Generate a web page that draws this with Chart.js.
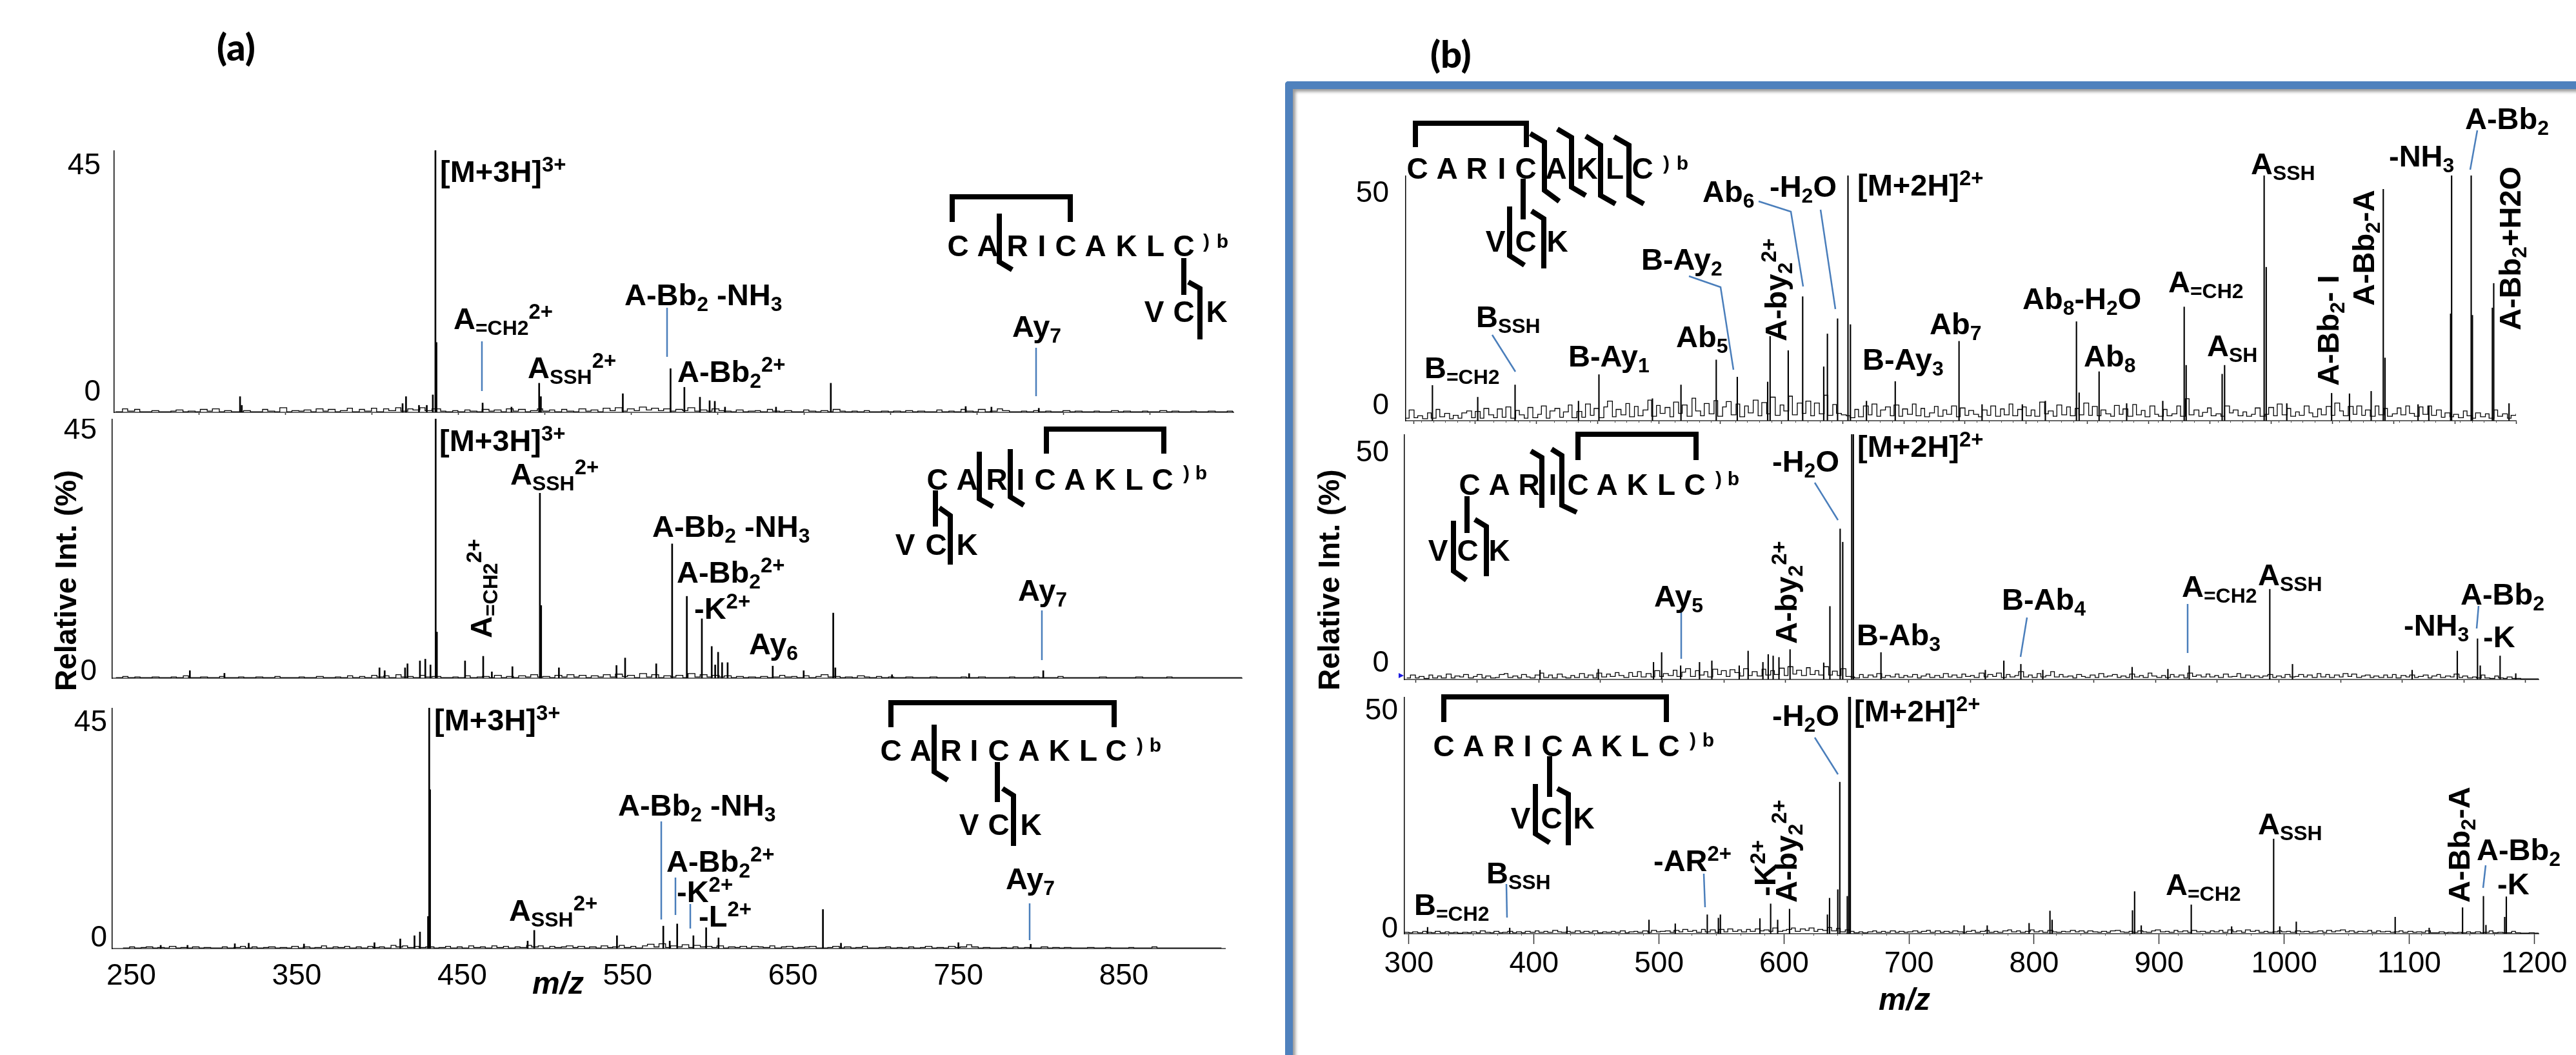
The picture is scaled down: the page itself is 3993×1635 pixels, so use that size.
<!DOCTYPE html>
<html>
<head>
<meta charset="utf-8">
<script src="https://cdn.jsdelivr.net/npm/chart.js@4"></script>
<style>
html, body { margin: 0; padding: 0; background: #fff; }
#page { position: relative; width: 3993px; height: 1635px; overflow: hidden; background: #fff; font-family: "Liberation Sans", Arial, sans-serif; color: #000; }
#frame { position: absolute; left: 1992px; top: 126px; width: 2100px; height: 1600px; box-sizing: border-box; border-left: 12px solid #4f81bd; border-top: 12px solid #4f81bd; border-top-left-radius: 5px; box-shadow: inset 4px 4px 5px #999; }
canvas { position: absolute; }
#overlay { position: absolute; left: 0; top: 0; }
.lbl { position: absolute; white-space: nowrap; font-weight: bold; line-height: 0; font-size: 44px; }
.lbl sub, .lbl sup { font-size: .68em; line-height: 0; vertical-align: baseline; position: relative; }
.lbl sub { top: .28em; }
.lbl sup { top: -.48em; font-size: .7em; }
</style>
</head>
<body>
<div id="page">
<div id="frame"></div>
<canvas id="a1"></canvas><canvas id="a2"></canvas><canvas id="a3"></canvas>
<canvas id="b1"></canvas><canvas id="b2"></canvas><canvas id="b3"></canvas>
<svg id="overlay" width="3993" height="1635" xmlns="http://www.w3.org/2000/svg"></svg>
</div>
<script>
// peaks, one pair of lists per spectrum
const a1PeakMz = [317,318,413,411,420.5,425,428.5,430,430.6,457.3,474,490,491,538.4,566,574,583,588.6,591.6,597.5,627,658.7,736.7,751.6,779];
const a1PeakInt = [2.7,1.2,2.7,1.5,1.2,1.2,3,45,12,1.6,.9,5,2.7,3.2,7.5,4.3,2.6,2,1.9,.9,.9,5,1,.9,.7];
const a2PeakMz = [287.8,307.8,397.5,400.5,412.3,413.7,420.9,424,427,430,430.7,447,457.5,462.5,474.4,490.3,491,501.3,534.6,539.6,557.6,566.8,575.3,584,589.7,591.7,593.4,595.7,598.9,625,642.9,660,661.2,694,738.6,781.5];
const a2PeakInt = [1.3,.85,1.8,1.3,1.8,2.5,3,3.3,2.3,45,8,3,3.8,1.1,2,32.1,12.6,1.8,2.2,3.5,2.5,23.3,14.2,10.3,5.5,2.3,4.5,2.7,2.7,2.1,1.3,11.3,1.8,.6,.8,1.3];
const a3PeakMz = [267.8,284,312.6,321,354.4,397,412.6,421.2,424.5,429.4,430.1,430.6,489.6,493.6,543.6,571.6,575.5,580,589.8,597.5,605,668.1,679,750,793.7];
const a3PeakInt = [.6,.6,.9,1,.85,1.1,1.8,2.4,3.1,6,45,29.7,1.4,3.4,2.4,4.2,1.4,4.6,2.4,3.9,2,7.3,1,1.1,.8];
const b1PeakMz = [315,352,382.5,434.3,451,494.7,518,546.8,564,588.8,590.8,605.6,617.4,634.6,637.6,645.9,654.4,656.4,669.5,693,745.1,763.9,796.8,815.6,841,843.2,859.5,882,911.5,929,930.6,960,962,994.3,996,1012.8,1049.4,1064,1081.7,1091.6,1093,1120,1128.8,1146.6,1147.4,1163.4,1164.4,1180.7,1181.8,1194.3];
const b1PeakInt = [7.2,4.8,7.3,4,9.4,4.5,7.3,12.4,8.9,7.9,17.2,14.3,25.3,11,17.7,20.8,50,19.6,4,8,16.2,3.3,3.3,4,20.2,5.7,10,3.5,4,23.2,11.3,9.5,11.3,50,31.3,3.5,5.6,5.5,6,47.2,12.8,3.3,3,21.8,50,50,21.5,23,28,3.5];
const b2PeakMz = [401,448.3,493,499.6,515,530.3,540.3,562.5,569.7,581.7,586,590,594.7,603.7,631,636,644.3,646.4,653.7,655,677.4,762,777,790.8,808.6,881,910,927.3,992.6,1011,1108,1144.6,1161,1163.2,1179.3,1192];
const b2PeakInt = [1.9,2.1,3.5,5.5,2.8,3.5,3.8,2.8,5.8,3.5,5.1,4.8,4.5,6.1,3.4,14.9,30.7,28,50,50,5.5,1.9,3.8,3.1,1.9,2.5,2.1,2.8,18.4,3.1,1.9,5.8,8.3,2.8,4.8,1.2];
const b3PeakMz = [314.9,380.6,426.4,492,513,538.6,547.5,549.1,580.7,589.3,594.9,604.4,634.7,636.4,643,644.6,650.6,651.8,653,744,762.5,796,812.7,814.4,878.7,880.4,885.7,925.7,958,991.6,996.5,1009.7,1088.8,1116,1142.7,1159.4,1161.4,1176.4,1177.7];
const b3PeakInt = [1.35,1.2,1.5,2.9,2.1,4,3.3,4,3.2,6.3,2.9,5.2,4,7.5,9.3,32,7.9,50,50,1.7,1.7,2.2,4.8,2.9,4.9,8.9,1.7,6.1,1.5,20,1.5,2.5,3.5,1.2,5.5,7.9,1.8,3.5,7.8];

// baseline noise, estimated by eye, ten values a row
const aNoiseMz = [
245,249,252,256,259,263,266,270,273,277,
280,284,287,291,294,298,301,305,308,312,
316,319,323,326,330,333,337,340,344,347,
351,354,358,361,365,368,372,375,379,382,
386,389,393,396,400,403,407,410,414,417,
421,424,428,433,436,440,443,447,450,454,
457,461,464,468,471,475,478,482,485,489,
492,496,499,503,506,510,513,517,520,524,
527,531,534,538,541,545,548,552,555,559,
562,566,569,573,576,580,583,587,590,594,
597,601,604,608,611,615,618,622,625,629,
632,636,639,643,646,650,653,657,660,664,
667,671,674,678,681,685,688,692,695,699,
702,706,709,713,716,720,723,727,730,734,
737,741,744,748,751,755,758,762,765,769,
772,776,779,783,786,790,793,797,800,804,
807,811,814,818,821,825,828,832,835,839,
842,846,849,853,856,860,863,867,870,874,
877,881,884,888,891,895,898,902,905,909];
const a1NoiseInt = [
.1,.6,.2,.5,.1,.1,.3,.1,.1,.2,
.4,.1,.2,.1,.5,.2,.6,.1,.3,.1,
.1,.3,.1,.1,.5,.2,.1,.8,.1,.3,
.2,.4,.1,.6,.2,.5,.1,.3,.7,.1,
.5,.2,.7,.1,.6,.3,.8,.2,.6,.4,
.8,.3,.6,.2,.1,.3,.1,.4,.2,.1,
.5,.2,.4,.1,.6,.2,.5,.1,.3,.6,
.2,.4,.1,.5,.2,.1,.6,.2,.4,.1,
.7,.3,.8,.2,.6,.3,.9,.4,.7,.3,
.6,.2,.5,.3,.8,.2,.4,.2,.6,.3,
.2,.1,.4,.1,.2,.3,.1,.5,.2,.1,
.3,.1,.1,.4,.2,.1,.3,.1,.5,.2,
.1,.2,.1,.3,.1,.1,.2,.1,.2,.1,
.3,.1,.2,.1,.1,.4,.1,.2,.1,.5,
.2,.1,.5,.1,.2,.6,.3,.1,.1,.2,
.1,.3,.1,.2,.1,.1,.3,.1,.2,.1,
.1,.2,.1,.1,.3,.1,.2,.1,.1,.2,
.1,.1,.3,.1,.2,.1,.1,.2,.1,.1,
.2,.1,.1,.2,.1,.1,.2,.1,.1,.1];
const a2NoiseInt = [
.1,.3,.1,.2,.1,.1,.2,.1,.1,.2,
.1,.4,.1,.1,.2,.1,.1,.3,.1,.1,
.2,.1,.1,.2,.1,.1,.3,.1,.1,.1,
.2,.1,.1,.3,.1,.1,.2,.1,.4,.1,
.3,.1,.5,.2,.4,.1,.6,.2,.3,.1,
.5,.2,.3,.1,.1,.2,.1,.4,.1,.2,
.3,.1,.5,.1,.3,.1,.4,.2,.6,.2,
.3,.1,.5,.2,.6,.2,.5,.1,.4,.2,
.6,.2,.7,.3,.5,.1,.8,.2,.6,.1,
.4,.2,.5,.1,.8,.2,.6,.2,.5,.2,
.4,.1,.3,.1,.2,.1,.3,.1,.2,.5,
.2,.3,.1,.4,.1,.3,.6,.2,.3,.1,
.2,.1,.4,.2,.1,.3,.1,.2,.1,.1,
.2,.1,.1,.1,.2,.1,.1,.1,.1,.2,
.1,.1,.2,.1,.1,.1,.1,.2,.1,.1,
.1,.2,.1,.1,.1,.3,.1,.1,.1,.1,
.1,.1,.2,.1,.1,.1,.1,.1,.2,.1,
.1,.1,.1,.2,.1,.1,.1,.1,.1,.1,
.1,.1,.1,.1,.1,.1,.1,.1,.1,.1];
const a3NoiseInt = [
.1,.3,.1,.2,.3,.1,.2,.1,.4,.1,
.2,.1,.3,.1,.2,.1,.1,.3,.1,.2,
.4,.1,.3,.1,.2,.3,.1,.2,.1,.4,
.1,.3,.1,.2,.5,.1,.3,.2,.4,.1,
.3,.1,.4,.2,.3,.1,.6,.3,.5,.2,
.4,.2,.3,.1,.2,.4,.1,.3,.1,.5,
.2,.3,.1,.5,.2,.4,.1,.3,.2,.6,
.3,.5,.1,.4,.2,.3,.5,.2,.4,.1,
.3,.1,.5,.2,.3,.6,.2,.4,.1,.5,
.8,.3,.9,.2,.5,.3,.7,.2,.6,.3,
.4,.2,.5,.1,.3,.2,.4,.1,.4,.3,
.2,.5,.1,.3,.4,.1,.2,.3,.4,.1,
.1,.2,.4,.1,.3,.1,.2,.4,.1,.1,
.2,.3,.1,.2,.1,.3,.1,.2,.4,.1,
.2,.1,.4,.2,.3,.7,.3,.1,.2,.1,
.1,.2,.1,.3,.1,.2,.1,.1,.3,.1,
.2,.1,.2,.1,.1,.1,.2,.1,.1,.2,
.1,.1,.1,.2,.1,.1,.1,.3,.1,.1,
.1,.1,.1,.1,.1,.1,.1,.1,.1,.1];

const bNoiseMz = [
293,296,300,303,307,311,314,318,321,325,
329,332,336,339,343,347,350,354,357,361,
365,368,372,375,379,383,386,390,393,397,
401,404,408,411,415,419,422,426,429,433,
437,440,444,447,451,455,458,462,465,469,
473,476,480,483,487,491,494,498,501,505,
509,512,516,519,523,527,530,534,537,541,
545,548,552,555,559,563,566,570,573,577,
581,584,588,591,595,599,602,606,609,613,
617,620,624,627,631,635,638,642,645,649,
653,656,660,663,667,671,674,678,681,685,
689,692,696,699,703,707,710,714,717,721,
725,728,732,735,739,743,746,750,753,757,
761,764,768,771,775,779,782,786,789,793,
797,800,804,807,811,815,818,822,825,829,
833,836,840,843,847,851,854,858,861,865,
869,872,876,879,883,887,890,894,897,901,
905,908,912,915,919,923,926,930,933,937,
941,944,948,951,955,959,962,966,969,973,
977,980,984,987,991,995,998,1002,1005,1009,
1013,1016,1020,1023,1027,1031,1034,1038,1041,1045,
1049,1052,1056,1059,1063,1067,1070,1074,1077,1081,
1085,1088,1092,1095,1099,1103,1106,1110,1113,1117,
1121,1124,1128,1131,1135,1139,1142,1146,1149,1153,
1157,1160,1164,1167,1171,1175,1178,1182,1185,1189,
1193,1196,1200,1203,1207,1211,1214,1218,1221,1225];
const b1NoiseInt = [
.5,2.2,.6,1,.4,1.6,.5,2.3,.8,1.5,
.4,1.1,.5,1.6,2,.6,1.9,.5,2.5,1.2,
.6,2.4,.7,2.8,.5,2.1,1.2,.5,2.7,.6,
1.3,3,.5,2,2.5,.7,1.8,3.2,.6,1.9,
.7,3.4,1.1,2.5,.6,2.8,4,.8,2.3,1.2,
3.5,.8,2.9,1,2.2,4.2,.9,3.1,1.5,2.7,
.8,3.8,1.5,3.2,.9,4.6,2,1,3.5,1.4,
4.1,.9,2.8,3.9,1.2,3.4,.8,3,1.6,4.2,
1,3.7,1.4,4.8,1.1,3.2,2,5,1.2,3.6,
1.5,4,1,3.6,1.4,5.2,1.1,3.3,1.5,1.2,
1,.6,2.3,.8,3,1.2,3.4,.9,2.2,2.8,
1,3.2,.9,2.4,1.3,3.4,1,2.5,.8,1.6,
2.9,.9,2.2,1.3,3,.8,2.6,1.1,2.1,1.3,
.8,2.2,1.1,3,.9,2.4,1.2,3.4,1,2.3,
2.8,1,2.2,.9,3.8,1.4,2,.9,3.2,1.2,
2.8,1,2.5,1.2,3.6,1.1,2.9,1,2.2,1.4,
.9,3.1,1.3,2.4,.9,3.3,1.2,2.1,.8,3,
1.3,.9,2.3,1,1.4,3,.9,4.5,1.2,2.2,
.9,1.7,2.6,1,1.4,.9,3,1.6,2.2,1,
1.8,.9,1.3,2.6,.9,1.3,2.7,1,3.4,1.2,
2.5,.9,1.8,1.1,3,1.6,.8,2.4,1.2,2.9,
1.1,3.6,2,1,2.9,1.3,3,1.1,2.2,.9,
3,1.2,2.5,.9,1.4,2.6,1.2,3,1.5,.9,
2.8,1.3,3,1.1,2.2,.7,1.6,.8,1.3,.6,
2,1,.5,1.6,.8,1.4,.5,2.2,.9,1.4,
.5,1.1,1.4,.4,1.2,.3,.2,.2,.2,.2];
const b2NoiseInt = [
.3,.9,.3,.6,.2,.9,.3,.7,.3,1.1,
.3,.7,.5,1,.3,.6,1,.3,.7,.3,
.4,1,1.2,.4,.7,.3,1,.5,.3,.9,
1.3,.4,.9,.3,1.1,.5,.3,.8,.4,1.2,
.4,.9,.3,1.3,.5,1.1,.6,1.4,.8,.4,
1.4,.6,1.6,.5,1.2,.5,1.8,.6,1.2,.8,
1.9,.6,1.5,2.2,.6,1.8,.9,1.6,.5,2.1,
1,1.8,.6,2,1.4,.7,2.2,.8,1.6,.7,
2.1,.9,1.8,1,2.3,.8,2.6,1.1,1.9,.8,
2.4,1,1.8,.9,2.6,.9,1.7,.8,2.2,.6,
.5,.3,1,.4,.9,.5,1.2,.4,.8,.5,
1.1,.4,.8,.5,1,.3,.7,1.1,.4,.8,
.4,1.2,.5,.9,.4,1.1,.6,.8,.4,1.3,
.5,1,.6,1.3,.4,1,.5,.8,1.6,.5,
.9,.4,1.2,.5,.8,1.6,.5,1,.5,.7,
.3,1,.6,.4,.9,.4,1.2,.5,.7,1,
.4,.7,.4,1.1,.5,.8,.4,1.3,.7,.4,
.8,.4,1,.5,.9,.3,1.3,.6,.9,.5,
1.1,.5,.8,.4,1.1,.5,.6,1.2,.4,.9,
.4,.7,.4,.7,1,.4,.7,.4,1,.5,
.6,1,.5,.9,.4,1.2,.5,1,.4,.9,
.5,1.2,.6,1.1,.4,.7,.9,.4,.7,.4,
.9,.4,1,.3,.8,.5,.9,.4,.6,.9,
.3,.7,1,.4,.7,.5,1.1,.4,.7,.3,
.5,.3,.9,.3,.2,.7,.3,.2,.5,.2,
.2,.1,.1,.1,.1,.1,.1,.1,.1,.1];
const b3NoiseInt = [
.2,.3,.2,.4,.2,.5,.3,.2,.5,.2,
.4,.2,.3,.1,.3,.2,.4,.2,.6,.3,
.2,.5,.2,.3,.5,.2,.4,.2,.5,.3,
.6,.3,.5,.3,.7,.4,.3,.5,.3,.6,
.3,.5,.3,.6,.2,.4,.3,.5,.3,.6,
.2,.4,.5,.3,.6,.3,.7,.4,.5,.6,
.3,.7,.4,.9,.5,.7,.3,.9,.4,.8,
.3,.9,.4,1,.5,.8,.4,.9,.5,1,
.6,.8,.5,1.2,.5,.7,.9,1.2,.5,1,
.7,1.2,.5,.9,.7,1.3,.6,1.1,.4,.8,
.5,.2,.4,.2,.4,.6,.3,.5,.3,.6,
.3,.5,.3,.4,.6,.3,.5,.7,.3,.6,
.3,.5,.3,.6,.4,.3,.5,.7,.3,.5,
.7,.3,.5,.3,.6,.8,.4,.6,.3,.5,
.8,.4,.6,.3,.7,.4,.3,.5,.4,.7,
.4,.6,.3,.6,.4,.3,.5,.3,.6,.7,
.4,.3,.5,.3,.6,.4,.3,.6,.8,.4,
.5,.3,.7,.4,.6,.3,.7,.4,.5,.3,
.6,.4,.7,.3,.8,.4,.6,.3,.8,.5,
.7,.3,.5,.3,.4,.6,.4,.5,.3,.6,
.4,.5,.3,.4,.6,.3,.7,.4,.6,.8,
.4,.6,.3,.5,.4,.7,.3,.6,.4,.5,
.3,.4,.6,.3,.5,.3,.4,.3,.6,.2,
.2,.4,.2,.3,.2,.3,.2,.4,.2,.4,
.2,.3,.6,.2,.3,.2,.2,.5,.2,.1,
.1,.2,.1,.1,.1,.3,.1,.1,.1,.1];

// axis ticks and labels
const aUpperTicks = [293.4,343.4,393.4,443.4,493.4,543.4,593.4,643.4,693.4,743.4,793.4,843.4];
const aBottomLabels = [250,350,450,550,650,750,850];
const bMidTicks = [300,350,400,450,500,550,600,650,700,750,800,850,900,950,1000,1050,1100,1150,1200];
const bFineTicks = [300,310,320,330,340,360,370,380,390,410,420,430,440,460,470,480,490,510,520,530,540,560,570,580,590,610,620,630,640,660,670,680,690,710,720,730,740,760,770,780,790,810,820,830,840,860,870,880,890,910,920,930,940,960,970,980,990,1010,1020,1030,1040,1060,1070,1080,1090,1110,1120,1130,1140,1160,1170,1180,1190];
const bBottomLabels = [300,400,500,600,700,800,900,1000,1100,1200];
const bBottomMinor = [320,340,360,380,420,440,460,480,520,540,560,580,620,640,660,680,720,740,760,780,820,840,860,880,920,940,960,980,1020,1040,1060,1080,1120,1140,1160,1180];

const tickFont = { family: '"Liberation Sans", Arial, sans-serif', size: 46 };
const padL = 120, padR = 60;

function makeSpectrum(id, p) {
  const canvas = document.getElementById(id);
  const w = padL + (p.R - p.L) + padR, h = (p.B - p.T) + p.padB;
  canvas.width = w;
  canvas.height = h;
  canvas.style.left = (p.L - padL) + 'px';
  canvas.style.top = p.T + 'px';

  const zeroPad = s => { s.paddingLeft = 0; s.paddingRight = 0; s.paddingTop = 0; s.paddingBottom = 0; };
  const scales = {
    x: {
      type: 'linear', position: 'bottom', weight: 1, min: p.xMin, max: p.xMax, offset: false,
      border: { display: true, color: '#666', width: 2 },
      grid: { drawOnChartArea: false, offset: false, drawTicks: p.tickLen > 0, tickLength: p.tickLen, tickColor: '#333', tickWidth: 1.5 },
      afterBuildTicks: a => { a.ticks = p.ticks.map(v => ({ value: v })); },
      afterFit: s => { s.height = p.padB; zeroPad(s); },
      ticks: {
        display: p.showLabels, font: tickFont, color: '#000', maxRotation: 0, autoSkip: false,
        padding: p.labelPad, callback: v => String(v)
      }
    },
    y: { display: false, min: 0, max: p.yMax },
    yLabel: {
      type: 'linear', position: 'left', min: p.labelMin, max: p.labelMax,
      border: { display: true, color: '#000', width: 1.5 },
      grid: { drawOnChartArea: false, drawTicks: false },
      afterBuildTicks: a => { a.ticks = [{ value: 0 }, { value: p.yMax }]; },
      afterFit: s => { s.width = padL; zeroPad(s); },
      ticks: { font: tickFont, color: '#000', padding: p.yLabelPad, callback: v => String(v) }
    }
  };
  if (p.minorTicks) {
    scales.xMinor = {
      type: 'linear', position: 'bottom', weight: 0, min: p.xMin, max: p.xMax,
      border: { display: false },
      grid: { drawOnChartArea: false, offset: false, tickLength: p.minorLen, tickColor: '#444', tickWidth: 1 },
      afterBuildTicks: a => { a.ticks = p.minorTicks.map(v => ({ value: v })); },
      afterFit: s => { s.height = 0; zeroPad(s); },
      ticks: { display: false }
    };
  }

  return new Chart(canvas, {
    type: 'bar',
    data: {
      datasets: [
        {
          type: 'bar', data: p.peakMz.map((m, i) => ({ x: m, y: p.peakInt[i] })),
          backgroundColor: '#000', barThickness: p.barW, xAxisID: 'x', yAxisID: 'y'
        },
        {
          type: 'line', data: p.noiseMz.map((m, i) => ({ x: m, y: p.noiseInt[i] })),
          borderColor: '#000', borderWidth: 1.3, pointRadius: 0, stepped: true, xAxisID: 'x', yAxisID: 'y'
        }
      ]
    },
    options: {
      responsive: false, animation: false, devicePixelRatio: 1,
      layout: { padding: { left: 0, top: 0, right: padR, bottom: 0 } },
      plugins: { legend: { display: false }, tooltip: { enabled: false } },
      scales: scales
    }
  });
}

makeSpectrum('a1', { L: 177, R: 1912, T: 233, B: 639, padB: 8, xMin: 244.2, xMax: 891.6, yMax: 45, labelMin: -3.97, labelMax: 48.08, yLabelPad: 21, barW: 2,
  peakMz: a1PeakMz, peakInt: a1PeakInt, noiseMz: aNoiseMz, noiseInt: a1NoiseInt, ticks: aUpperTicks, tickLen: 4, showLabels: false, labelPad: 0 });
makeSpectrum('a2', { L: 174, R: 1925, T: 649, B: 1051, padB: 8, xMin: 242.9, xMax: 896.4, yMax: 45, labelMin: -1.2, labelMax: 47.17, yLabelPad: 24, barW: 2,
  peakMz: a2PeakMz, peakInt: a2PeakInt, noiseMz: aNoiseMz, noiseInt: a2NoiseInt, ticks: [], tickLen: 0, showLabels: false, labelPad: 0 });
makeSpectrum('a3', { L: 174, R: 1899, T: 1097, B: 1470, padB: 80, xMin: 238.5, xMax: 911.2, yMax: 45, labelMin: -2.16, labelMax: 48.1, yLabelPad: 8, barW: 2,
  peakMz: a3PeakMz, peakInt: a3PeakInt, noiseMz: aNoiseMz, noiseInt: a3NoiseInt, ticks: aBottomLabels, tickLen: 0, showLabels: true, labelPad: 16 });
makeSpectrum('b1', { L: 2179, R: 3900, T: 272, B: 652, padB: 8, xMin: 293.2, xMax: 1200, yMax: 50, labelMin: -3.5, labelMax: 54.26, yLabelPad: 26, barW: 1.5,
  peakMz: b1PeakMz, peakInt: b1PeakInt, noiseMz: bNoiseMz, noiseInt: b1NoiseInt, ticks: bMidTicks, tickLen: 5, showLabels: false, labelPad: 0, minorTicks: bFineTicks, minorLen: 3 });
makeSpectrum('b2', { L: 2177, R: 3935, T: 673, B: 1053, padB: 8, xMin: 291.1, xMax: 1210.5, yMax: 50, labelMin: -3.84, labelMax: 54.45, yLabelPad: 24, barW: 1.5,
  peakMz: b2PeakMz, peakInt: b2PeakInt, noiseMz: bNoiseMz, noiseInt: b2NoiseInt, ticks: bMidTicks, tickLen: 5, showLabels: false, labelPad: 0 });
makeSpectrum('b3', { L: 2177, R: 3935, T: 1080, B: 1447, padB: 90, xMin: 296.4, xMax: 1203.5, yMax: 50, labelMin: -1.04, labelMax: 53.25, yLabelPad: 10, barW: 1.5,
  peakMz: b3PeakMz, peakInt: b3PeakInt, noiseMz: bNoiseMz, noiseInt: b3NoiseInt, ticks: bBottomLabels, tickLen: 16, showLabels: true, labelPad: 4, minorTicks: bBottomMinor, minorLen: 3 });

// peak annotations: text, left x, baseline y, rotated?
const annotations = [
  ['[M+3H]<sup>3+</sup>', 682, 282],
  ['A<sub>=CH2</sub><sup>2+</sup>', 703, 510],
  ['A<sub>SSH</sub><sup>2+</sup>', 818, 586],
  ['A-Bb<sub>2</sub> -NH<sub>3</sub>', 968, 473],
  ['A-Bb<sub>2</sub><sup>2+</sup>', 1050, 592],
  ['Ay<sub>7</sub>', 1569, 522],
  ['[M+3H]<sup>3+</sup>', 681, 699],
  ['A<sub>SSH</sub><sup>2+</sup>', 791, 751],
  ['A<sub>=CH2</sub><sup>2+</sup>', 762, 989, true],
  ['A-Bb<sub>2</sub> -NH<sub>3</sub>', 1011, 832],
  ['A-Bb<sub>2</sub><sup>2+</sup>', 1049, 903],
  ['-K<sup>2+</sup>', 1076, 959],
  ['Ay<sub>6</sub>', 1161, 1014],
  ['Ay<sub>7</sub>', 1578, 931],
  ['[M+3H]<sup>3+</sup>', 673, 1132],
  ['A<sub>SSH</sub><sup>2+</sup>', 789, 1427],
  ['A-Bb<sub>2</sub> -NH<sub>3</sub>', 958, 1264],
  ['A-Bb<sub>2</sub><sup>2+</sup>', 1033, 1351],
  ['-K<sup>2+</sup>', 1049, 1398],
  ['-L<sup>2+</sup>', 1083, 1436],
  ['Ay<sub>7</sub>', 1559, 1378],
  ['B<sub>=CH2</sub>', 2208, 586],
  ['B<sub>SSH</sub>', 2288, 507],
  ['B-Ay<sub>1</sub>', 2431, 568],
  ['Ab<sub>5</sub>', 2598, 538],
  ['B-Ay<sub>2</sub>', 2544, 418],
  ['A-by<sub>2</sub><sup>2+</sup>', 2769, 529, true],
  ['Ab<sub>6</sub>', 2639, 313],
  ['-H<sub>2</sub>O', 2743, 305],
  ['[M+2H]<sup>2+</sup>', 2879, 303],
  ['B-Ay<sub>3</sub>', 2887, 573],
  ['Ab<sub>7</sub>', 2991, 518],
  ['Ab<sub>8</sub>-H<sub>2</sub>O', 3135, 479],
  ['Ab<sub>8</sub>', 3230, 568],
  ['A<sub>=CH2</sub>', 3361, 453],
  ['A<sub>SH</sub>', 3421, 552],
  ['A<sub>SSH</sub>', 3489, 270],
  ['A-Bb<sub>2</sub>- I', 3625, 598, true],
  ['A-Bb<sub>2</sub>-A', 3680, 474, true],
  ['-NH<sub>3</sub>', 3703, 258],
  ['A-Bb<sub>2</sub>', 3821, 200],
  ['A-Bb<sub>2</sub>+H2O', 3907, 512, true],
  ['[M+2H]<sup>2+</sup>', 2879, 708],
  ['-H<sub>2</sub>O', 2747, 731],
  ['Ay<sub>5</sub>', 2564, 940],
  ['A-by<sub>2</sub><sup>2+</sup>', 2785, 998, true],
  ['B-Ab<sub>3</sub>', 2878, 1000],
  ['B-Ab<sub>4</sub>', 3103, 945],
  ['A<sub>=CH2</sub>', 3382, 925],
  ['A<sub>SSH</sub>', 3500, 907],
  ['-NH<sub>3</sub>', 3726, 985],
  ['A-Bb<sub>2</sub>', 3814, 937],
  ['-K', 3849, 1003],
  ['[M+2H]<sup>2+</sup>', 2874, 1118],
  ['-H<sub>2</sub>O', 2747, 1125],
  ['B<sub>=CH2</sub>', 2192, 1418],
  ['B<sub>SSH</sub>', 2304, 1369],
  ['-AR<sup>2+</sup>', 2563, 1350],
  ['-K<sup>2+</sup>', 2752, 1389, true],
  ['A-by<sub>2</sub><sup>2+</sup>', 2785, 1399, true],
  ['A<sub>=CH2</sub>', 3357, 1387],
  ['A<sub>SSH</sub>', 3500, 1293],
  ['A-Bb<sub>2</sub>-A', 3828, 1399, true],
  ['A-Bb<sub>2</sub>', 3839, 1333],
  ['-K', 3871, 1386]
];

// thin blue leader lines
const leaders = [
  [747,529,747,606], [1034,477,1034,553], [1606,539,1606,614],
  [1615,946,1615,1023],
  [1025,1273,1025,1425], [1047,1360,1047,1418], [1070,1401,1070,1439], [1596,1400,1596,1457],
  [2313,519,2349,576], [2618,428,2667,445,2687,573], [2726,312,2776,328,2795,444], [2822,325,2845,479], [3840,202,3829,263],
  [2813,748,2849,806], [2606,948,2606,1021], [3142,957,3132,1018], [3391,936,3391,1012], [3842,939,3839,974],
  [2813,1143,2849,1200], [2335,1370,2336,1422], [2641,1354,2643,1406], [3853,1341,3849,1376]
];

// peptide drawings: letters at their centres, then the thick bonds
const peptides = [
  { seq: [1485,1531,1577,1615,1652,1698,1746,1791,1835], y: 397, close: [1870,1895,384], arm: [1789,1835,1886,499],
    bonds: [[1476,344,1476,305,1659,305,1659,344],[1549,331,1549,406,1569,418],[1835,400,1835,457],[1842,437,1860,447,1860,526]] },
  { seq: [1453,1499,1545,1582,1620,1666,1713,1758,1802], y: 759, close: [1839,1862,743], arm: [1403,1451,1499,860],
    bonds: [[1622,703,1622,665,1804,665,1804,703],[1518,700,1518,773,1539,785],[1566,696,1566,770,1587,783],[1450,760,1450,816],[1456,787,1473,799,1473,875]] },
  { seq: [1381,1427,1474,1510,1548,1595,1642,1687,1730], y: 1179, close: [1767,1791,1165], arm: [1502,1548,1598,1294],
    bonds: [[1381,1127,1381,1089,1727,1089,1727,1127],[1448,1123,1448,1196,1469,1209],[1546,1181,1546,1243],[1554,1222,1571,1233,1571,1311]] },
  { seq: [2197,2243,2289,2328,2365,2412,2460,2503,2546], y: 277, close: [2583,2608,263], arm: [2318,2365,2414,390],
    bonds: [[2194,228,2194,191,2366,191,2366,228],[2372,207,2394,220,2394,295,2417,312],[2414,200,2436,213,2436,290,2458,303],[2458,211,2481,225,2481,303,2504,316],[2502,212,2525,225,2525,303,2548,316],[2361,277,2361,340],[2340,320,2340,396,2363,411],[2374,327,2393,339,2393,416]] },
  { seq: [2278,2324,2370,2407,2446,2491,2538,2583,2627], y: 767, close: [2664,2687,752], arm: [2229,2275,2324,869],
    bonds: [[2446,713,2446,673,2629,673,2629,713],[2373,699,2390,709,2390,787],[2405,696,2421,706,2421,783,2444,794],[2274,769,2274,826],[2253,807,2253,885,2273,899],[2286,805,2304,816,2304,893]] },
  { seq: [2238,2284,2331,2368,2406,2452,2498,2542,2587], y: 1172, close: [2624,2648,1157], arm: [2357,2405,2455,1284],
    bonds: [[2238,1119,2238,1080,2583,1080,2583,1119],[2402,1172,2402,1235],[2380,1215,2380,1292,2402,1306],[2414,1222,2431,1231,2431,1310]] }
];
const seqLetters = ['C','A','R','I','C','A','K','L','C'];
const armLetters = ['V','C','K'];

const svg = document.getElementById('overlay');
const NS = 'http://www.w3.org/2000/svg';
function svgEl(tag, attrs, text) {
  const el = document.createElementNS(NS, tag);
  Object.keys(attrs).forEach(k => el.setAttribute(k, attrs[k]));
  if (text) el.textContent = text;
  svg.appendChild(el);
}
function letter(t, x, y, size) {
  svgEl('text', { x: x, y: y, 'text-anchor': 'middle', 'font-family': 'Liberation Sans', 'font-weight': 'bold', 'font-size': size }, t);
}
leaders.forEach(l => svgEl('polyline', { points: l.join(' '), fill: 'none', stroke: '#4a7ebb', 'stroke-width': 2.5 }));
peptides.forEach(p => {
  p.seq.forEach((x, i) => letter(seqLetters[i], x, p.y, 46));
  letter(')', p.close[0], p.close[2], 30);
  letter('b', p.close[1], p.close[2], 30);
  armLetters.forEach((t, i) => letter(t, p.arm[i], p.arm[3], 46));
  p.bonds.forEach(b => svgEl('polyline', { points: b.join(' '), fill: 'none', stroke: '#000', 'stroke-width': 8 }));
});
svgEl('polygon', { points: '2168,1043 2176,1047 2168,1051', fill: '#1a1ae0' });

const page = document.getElementById('page');
const LBL_SHIFT = 0.3465;
function addLabel(html, x, y, rotated, size, extra) {
  const d = document.createElement('div');
  d.className = 'lbl';
  d.innerHTML = html;
  d.style.fontSize = size + 'px';
  if (rotated) {
    d.style.left = (x - LBL_SHIFT * size) + 'px';
    d.style.top = y + 'px';
    d.style.transformOrigin = '0 0';
    d.style.transform = 'rotate(-90deg)';
  } else {
    d.style.left = x + 'px';
    d.style.top = (y - LBL_SHIFT * size) + 'px';
  }
  if (extra) Object.assign(d.style, extra);
  page.appendChild(d);
}
annotations.forEach(a => addLabel(a[0], a[1], a[2], a[3], 47));
addLabel('Relative Int. (%)', 118, 1071, true, 46);
addLabel('Relative Int. (%)', 2076, 1070, true, 46);
addLabel('<i>m/z</i>', 825, 1541, false, 48);
addLabel('<i>m/z</i>', 2912, 1566, false, 48);
addLabel('(a)', 336, 92, false, 58, { fontFamily: 'Lato', fontWeight: 900 });
addLabel('(b)', 2217, 103, false, 58, { fontFamily: 'Lato', fontWeight: 900 });
</script>
</body>
</html>
